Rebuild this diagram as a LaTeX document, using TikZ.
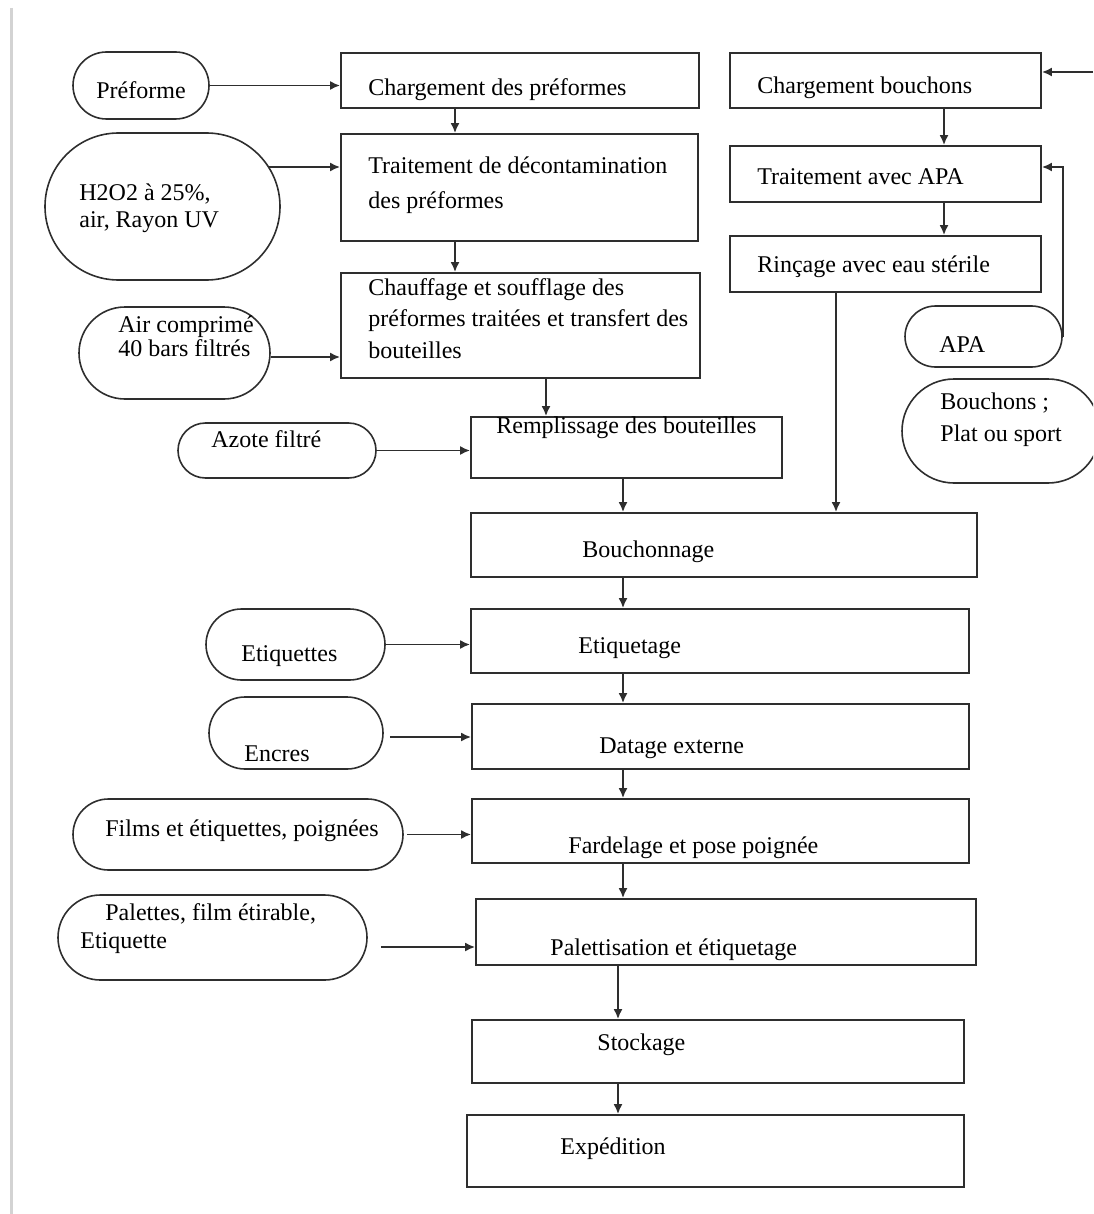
\documentclass[tikz,border=0pt]{standalone}
\usepackage{fontspec}
\setmainfont{Liberation Serif}
\usetikzlibrary{arrows.meta}
\definecolor{linegray}{HTML}{2E2E2E}
\definecolor{edgegray}{HTML}{D3D3D3}
\tikzset{
  sz/.style 2 args={minimum width=#1*0.5pt, minimum height=#2*0.5pt},
  stepbox/.style 2 args={draw=linegray, line width=0.9pt, inner sep=0pt, sz={#1}{#2}},
  supply/.style 2 args={draw=linegray, line width=0.8pt, inner sep=0pt, sz={#1}{#2}, rounded corners=#2*0.25pt},
  txt/.style={inner sep=0pt, anchor=west, align=left, font=\fontsize{12}{14}\selectfont},
  flow/.style={->, draw=linegray, line width=0.9pt}
}

\begin{document}
\begin{tikzpicture}[x=0.5pt,y=-0.5pt,>={Latex[length=5pt,width=4.5pt]}]
\useasboundingbox (0,0) rectangle (1093,1214);
\clip (0,0) rectangle (1093,1214);
\draw[edgegray, line width=1.5pt] (11,8) -- (11,1214);

% process steps
\node[stepbox={358}{55}] (cp) at (520,80.5) {};
\node[stepbox={357}{107}] (td) at (519.5,187.5) {};
\node[stepbox={359}{105}] (cs) at (520.5,325.5) {};
\node[stepbox={311}{61}] (rb) at (626.5,447.5) {};
\node[stepbox={506}{64}] (bo) at (724,545) {};
\node[stepbox={498}{64}] (et) at (720,641) {};
\node[stepbox={497}{65}] (da) at (720.5,736.5) {};
\node[stepbox={497}{64}] (fa) at (720.5,831) {};
\node[stepbox={500}{66}] (pa) at (726,932) {};
\node[stepbox={492}{63}] (st) at (718,1051.5) {};
\node[stepbox={497}{72}] (ex) at (715.5,1151) {};
\node[stepbox={311}{55}] (cb) at (885.5,80.5) {};
\node[stepbox={311}{56}] (ta) at (885.5,174) {};
\node[stepbox={311}{56}] (ri) at (885.5,264) {};

% inputs
\node[supply={136}{67}] (pf) at (141,85.5) {};
\node[supply={235}{147}] (h2) at (162.5,206.5) {};
\node[supply={191}{92}] (ac) at (174.5,353) {};
\node[supply={198}{55}] (az) at (277,450.5) {};
\node[supply={179}{71}] (eq) at (295.5,644.5) {};
\node[supply={174}{72}] (en) at (296,733) {};
\node[supply={330}{71}] (fi) at (238,834.5) {};
\node[supply={309}{85}] (pl) at (212.5,937.5) {};
\node[supply={157}{61}] (apa) at (983.5,336.5) {};
\node[supply={198}{104}] (bc) at (1001,431) {};

% texts
\node[txt] (pft) at (96,90) {Préforme};
\node[txt] (cpt) at (368,90) {Chargement des préformes};
\node[txt, font=\fontsize{12}{17.5}\selectfont] (tdt) at (368,185.5) {Traitement de décontamination\\des préformes};
\node[txt, font=\fontsize{12}{13.5}\selectfont] (h2t) at (79,208.5) {H2O2 à 25\%,\\air, Rayon UV};
\node[txt, font=\fontsize{12}{15.75}\selectfont] (cst) at (368,318.5) {Chauffage et soufflage des\\préformes traitées et transfert des\\bouteilles};
\node[txt, font=\fontsize{12}{12}\selectfont] (act) at (118,336) {Air comprimé\\40 bars filtrés};
\node[txt] (cbt) at (757,88) {Chargement bouchons};
\node[txt] (tat) at (757,177) {Traitement avec APA};
\node[txt] (rit) at (757,267) {Rinçage avec eau stérile};
\node[txt] (apat) at (939,345) {APA};
\node[txt, font=\fontsize{12}{16}\selectfont] (bct) at (940,420) {Bouchons ;\\Plat ou sport};
\node[txt] (azt) at (211,439) {Azote filtré};
\node[txt] (rbt) at (496,428) {Remplissage des bouteilles};
\node[txt] (bot) at (582,552) {Bouchonnage};
\node[txt] (eqt) at (241,656) {Etiquettes};
\node[txt] (ett) at (578,648) {Etiquetage};
\node[txt] (ent) at (244,754) {Encres};
\node[txt] (dat) at (599,748) {Datage externe};
\node[txt] (fet) at (105,831) {Films et étiquettes, poignées};
\node[txt] (fat) at (568,848) {Fardelage et pose poignée};
\node[txt] (plt) at (80,929) {\hspace*{12.5pt}Palettes, film étirable,\\Etiquette};
\node[txt] (pat) at (550,950) {Palettisation et étiquetage};
\node[txt] (stt) at (597,1045) {Stockage};
\node[txt] (ext) at (560,1149) {Expédition};

% columns and arrow ends
\coordinate (c1) at (455,0);
\coordinate (c2) at (546,0);
\coordinate (c3) at (623,0);
\coordinate (c4) at (618,0);
\coordinate (c5) at (836,0);
\coordinate (c6) at (944,0);
\coordinate (capin) at (1093,72);
\coordinate (h2o) at ([shift={(-12,-39.5)}]h2.east);
\coordinate (aco) at ([yshift=-2pt]ac.east);
\coordinate (eno) at ([xshift=3pt,yshift=-2pt]en.east);
\coordinate (fio) at ([xshift=1.5pt]fi.east);
\coordinate (plo) at ([shift={(13,9.5)}]pl.east);

% arrows
\draw[flow] (pf.east) -- (pf.east -| cp.west);
\draw[flow] (h2o) -- (h2o -| td.west);
\draw[flow] (aco) -- (aco -| cs.west);
\draw[flow] (az.east) -- (az.east -| rb.west);
\draw[flow] (eq.east) -- (eq.east -| et.west);
\draw[flow] (eno) -- (eno -| da.west);
\draw[flow] (fio) -- (fio -| fa.west);
\draw[flow] (plo) -- (plo -| pa.west);
\draw[flow] (cp.south -| c1) -- (td.north -| c1);
\draw[flow] (td.south -| c1) -- (cs.north -| c1);
\draw[flow] (cs.south -| c2) -- (rb.north -| c2);
\draw[flow] (rb.south -| c3) -- (bo.north -| c3);
\draw[flow] (ri.south -| c5) -- (bo.north -| c5);
\draw[flow] (bo.south -| c3) -- (et.north -| c3);
\draw[flow] (et.south -| c3) -- (da.north -| c3);
\draw[flow] (da.south -| c3) -- (fa.north -| c3);
\draw[flow] (fa.south -| c3) -- (pa.north -| c3);
\draw[flow] (pa.south -| c4) -- (st.north -| c4);
\draw[flow] (st.south -| c4) -- (ex.north -| c4);
\draw[flow] (cb.south -| c6) -- (ta.north -| c6);
\draw[flow] (ta.south -| c6) -- (ri.north -| c6);
\draw[flow] (capin) -- (capin -| cb.east);
\draw[flow] (apa.east) |- ([yshift=3.5pt]ta.east);
\end{tikzpicture}
\end{document}
